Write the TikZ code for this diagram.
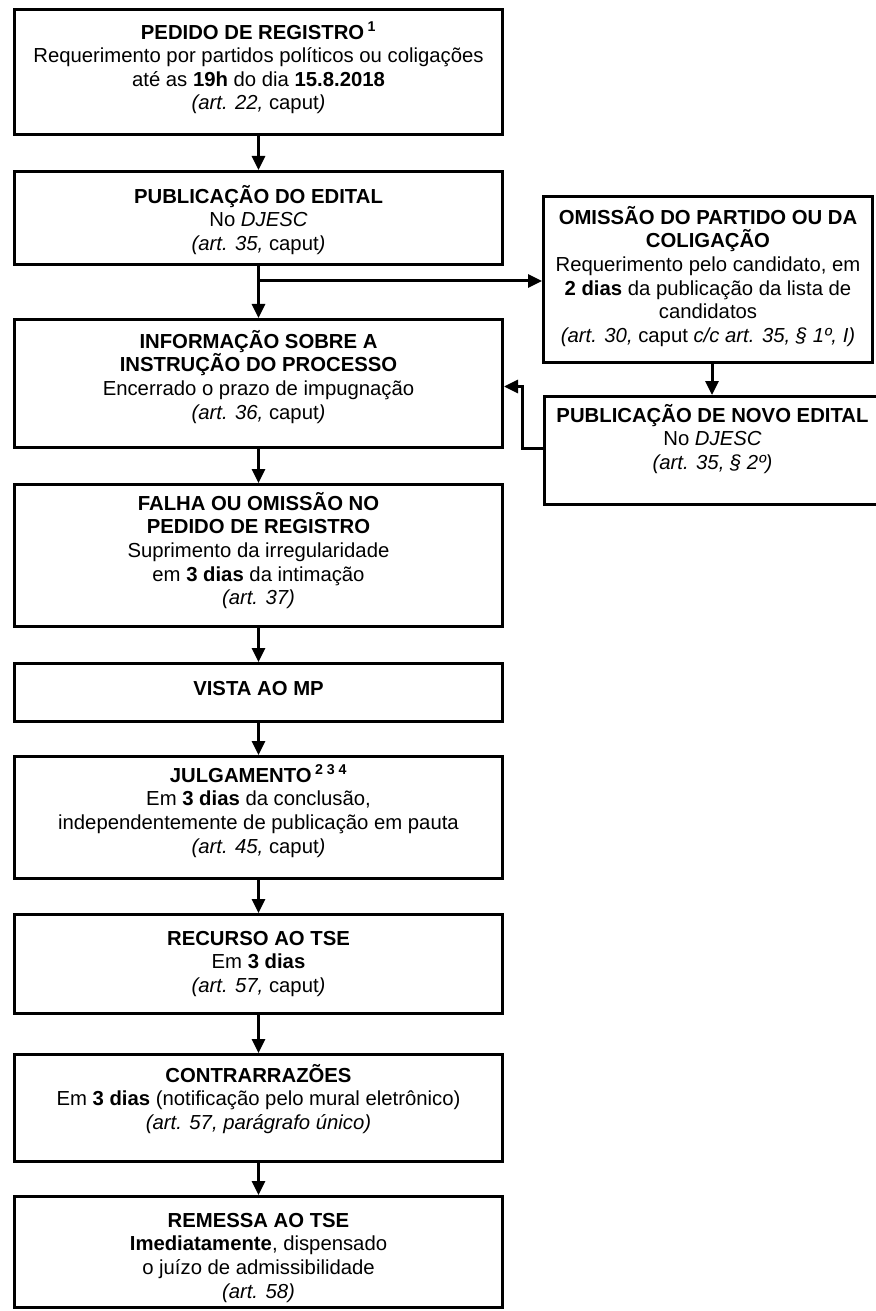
\documentclass[tikz,border=0pt]{standalone}
\usepackage{fontspec}
\setmainfont{Liberation Sans}
\usetikzlibrary{arrows.meta,calc}
\tikzset{
  box/.style={draw, line width=3bp, inner sep=0pt, anchor=north west, fill=white},
  txt/.style={align=center, inner sep=0pt, anchor=north, font=\fontsize{20.3bp}{23.6bp}\selectfont},
  arr/.style={line width=3bp, -{Triangle[length=14bp,width=13bp]}}
}
\newcommand{\fl}{\rule{0pt}{20bp}}
\begin{document}
\begin{tikzpicture}[x=1bp,y=-1bp]
\fill[white] (0,0) rectangle (875,1311);
\useasboundingbox (0,0) rectangle (875,1311);
% boxes
\node[box, minimum width=488bp, minimum height=125bp] (b1) at (13,8) {};
\node[box, minimum width=488bp, minimum height=93bp] (b2) at (13,170) {};
\node[box, minimum width=488bp, minimum height=128bp] (b3) at (13,318) {};
\node[box, minimum width=329bp, minimum height=166bp] (r1) at (542,195) {};
\node[box, minimum width=336bp, minimum height=108bp] (r2) at (543,395) {};
\node[box, minimum width=488bp, minimum height=142bp] (b4) at (13,483) {};
\node[box, minimum width=488bp, minimum height=58bp] (b5) at (13,662) {};
\node[box, minimum width=488bp, minimum height=122bp] (b6) at (13,755) {};
\node[box, minimum width=488bp, minimum height=99bp] (b7) at (13,913) {};
\node[box, minimum width=488bp, minimum height=107bp] (b8) at (13,1053) {};
\node[box, minimum width=488bp, minimum height=111bp] (b9) at (13,1195) {};
% texts
\node[txt] (t1) at (b1.north |- 0,19) {\fl\textbf{PEDIDO DE REGISTRO\,\textsuperscript{1}}\\
  Requerimento por partidos políticos ou coligações\\
  até as \textbf{19h} do dia \textbf{15.8.2018}\\
  \textit{(art. 22,} caput\textit{)}};
\node[txt] (t2) at (b2.north |- 0,183) {\fl\textbf{PUBLICAÇÃO DO EDITAL}\\
  No \textit{DJESC}\\
  \textit{(art. 35,} caput\textit{)}};
\node[txt] (t3) at (b3.north |- 0,328) {\fl\textbf{INFORMAÇÃO SOBRE A}\\
  \textbf{INSTRUÇÃO DO PROCESSO}\\
  Encerrado o prazo de impugnação\\
  \textit{(art. 36,} caput\textit{)}};
\node[txt] (tr1) at (r1.north |- 0,204) {\fl\textbf{OMISSÃO DO PARTIDO OU DA}\\
  \textbf{COLIGAÇÃO}\\
  Requerimento pelo candidato, em\\
  \textbf{2 dias} da publicação da lista de\\
  candidatos\\
  \textit{(art. 30,} caput \textit{c/c art. 35, § 1º, I)}};
\node[txt] (tr2) at (r2.north |- 0,402) {\fl\textbf{PUBLICAÇÃO DE NOVO EDITAL}\\
  No \textit{DJESC}\\
  \textit{(art. 35, § 2º)}};
\node[txt] (t4) at (b4.north |- 0,490) {\fl\textbf{FALHA OU OMISSÃO NO}\\
  \textbf{PEDIDO DE REGISTRO}\\
  Suprimento da irregularidade\\
  em \textbf{3 dias} da intimação\\
  \textit{(art. 37)}};
\node[txt] (t5) at (b5.north |- 0,675) {\fl\textbf{VISTA AO MP}};
\node[txt] (t6) at (b6.north |- 0,762) {\fl\textbf{JULGAMENTO\,\textsuperscript{2 3 4}}\\
  Em \textbf{3 dias} da conclusão,\\
  independentemente de publicação em pauta\\
  \textit{(art. 45,} caput\textit{)}};
\node[txt] (t7) at (b7.north |- 0,925) {\fl\textbf{RECURSO AO TSE}\\
  Em \textbf{3 dias}\\
  \textit{(art. 57,} caput\textit{)}};
\node[txt] (t8) at (b8.north |- 0,1062) {\fl\textbf{CONTRARRAZÕES}\\
  Em \textbf{3 dias} (notificação pelo mural eletrônico)\\
  \textit{(art. 57, parágrafo único)}};
\node[txt] (t9) at (b9.north |- 0,1207) {\fl\textbf{REMESSA AO TSE}\\
  \textbf{Imediatamente}, dispensado\\
  o juízo de admissibilidade\\
  \textit{(art. 58)}};
% connectors
\draw[arr] (b1.south) -- (b2.north);
\draw[arr] (b2.south) -- (b3.north);
\coordinate (br) at (257,281);
\draw[arr] (br) -- (br -| r1.west);
\draw[arr] (r1.south -| 712,0) -- (r2.north -| 712,0);
\coordinate (rt) at (522,448);
\draw[arr] (r2.west |- rt) -- (rt) |- ([yshift=-3bp]b3.east);
\draw[arr] (b3.south) -- (b4.north);
\draw[arr] (b4.south) -- (b5.north);
\draw[arr] (b5.south) -- (b6.north);
\draw[arr] (b6.south) -- (b7.north);
\draw[arr] (b7.south) -- (b8.north);
\draw[arr] (b8.south) -- (b9.north);
\end{tikzpicture}
\end{document}
